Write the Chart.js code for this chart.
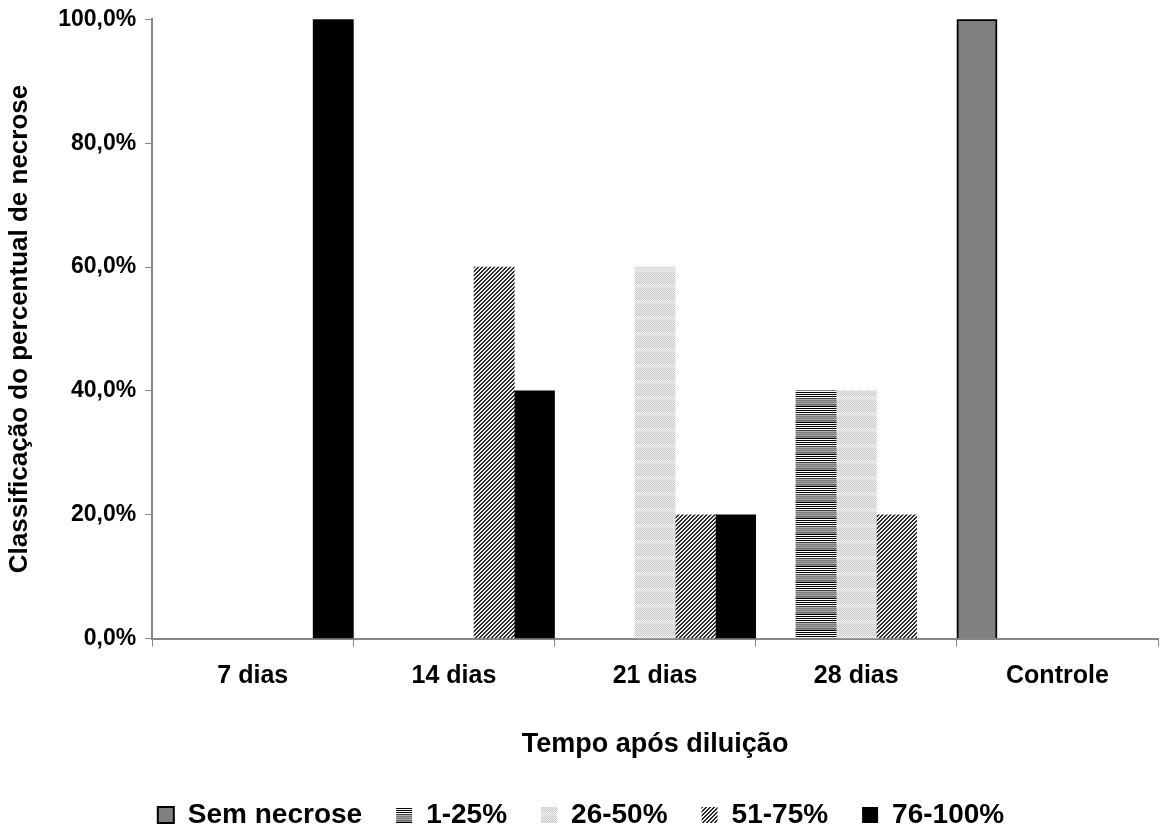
<!DOCTYPE html>
<html>
<head>
<meta charset="utf-8">
<script src="https://cdn.jsdelivr.net/npm/chart.js@4/dist/chart.umd.min.js"></script>
<style>
  html, body { margin: 0; padding: 0; background: #fff; }
  #wrap { width: 1168px; height: 839px; position: relative; }
</style>
</head>
<body>
<div id="wrap"><canvas id="chart"></canvas></div>
<script>
const categories = ['7 dias', '14 dias', '21 dias', '28 dias', 'Controle'];
const seriesNames = ['Sem necrose', '1-25%', '26-50%', '51-75%', '76-100%'];
const semNecrose = [0, 0, 0, 0, 100];
const pct1a25 = [0, 0, 0, 40, 0];
const pct26a50 = [0, 0, 60, 40, 0];
const pct51a75 = [0, 60, 20, 20, 0];
const pct76a100 = [100, 40, 20, 0, 0];
const yTicks = [0, 20, 40, 60, 80, 100];

const FONT = '"Liberation Sans", Arial, sans-serif';

// little canvas tiles for the Excel-like fill patterns
function tile(w, h, paint) {
  const c = document.createElement('canvas');
  c.width = w; c.height = h;
  const g = c.getContext('2d');
  for (let y = 0; y < h; y++) {
    for (let x = 0; x < w; x++) {
      g.fillStyle = paint(x, y);
      g.fillRect(x, y, 1, 1);
    }
  }
  return document.getElementById('chart').getContext('2d').createPattern(c, 'repeat');
}

const hRows = ['#7c7c7c', '#9a9a9a', '#808080', '#a4a4a4', '#6a6a6a', '#8c8c8c',
  '#000', '#fff', '#000', '#fff', '#000', '#fff', '#000', '#fff', '#3c3c3c', '#b0b0b0'];
const horizPattern = tile(1, 16, (x, y) => hRows[y]);
const dotPattern = tile(16, 16, (x, y) => {
  const on = (x + y) % 2 === 0;
  if (y % 16 >= 12) return on ? '#dcdcdc' : '#ececec';
  return on ? '#c4c4c4' : '#f2f2f2';
});
const diagPattern = tile(4, 4, (x, y) => ((x + y) % 4 < 2 ? '#2a2a2a' : '#ececec'));

const fills = ['#808080', horizPattern, dotPattern, diagPattern, '#000000'];
const values = [semNecrose, pct1a25, pct26a50, pct51a75, pct76a100];

const datasets = seriesNames.map((name, i) => ({
  label: name,
  // empty slots are left out so no zero-height sliver sits on the axis
  data: values[i].map((v) => (v === 0 ? null : v)),
  backgroundColor: fills[i],
  borderColor: '#000000',
  borderWidth: i === 0 ? 2 : 0,
  categoryPercentage: 1.0,
  barPercentage: 1.0,
}));

new Chart(document.getElementById('chart'), {
  type: 'bar',
  data: { labels: categories, datasets },
  options: {
    responsive: true,
    maintainAspectRatio: false,
    animation: false,
    layout: { padding: { left: 4, right: 10, top: 2, bottom: 0 } },
    plugins: {
      tooltip: { enabled: false },
      legend: {
        position: 'bottom',
        labels: {
          color: '#000',
          font: { family: FONT, size: 28, weight: 'bold' },
          boxWidth: 16,
          boxHeight: 16,
          padding: 34,
        },
      },
    },
    scales: {
      x: {
        grid: {
          drawOnChartArea: false,
          drawTicks: true,
          tickLength: 8,
          color: '#868686',
          offset: true,
        },
        border: { color: '#868686', width: 2 },
        ticks: {
          color: '#000',
          font: { family: FONT, size: 25, weight: 'bold' },
          padding: 15,
          maxRotation: 0,
        },
        title: {
          display: true,
          text: 'Tempo após diluição',
          color: '#000',
          font: { family: FONT, size: 27, weight: 'bold' },
          padding: { top: 22, bottom: 6 },
        },
      },
      y: {
        min: 0,
        max: 100,
        afterBuildTicks: (scale) => {
          scale.ticks = yTicks.map((v) => ({ value: v }));
        },
        grid: {
          drawOnChartArea: false,
          drawTicks: true,
          tickLength: 7,
          color: '#868686',
        },
        border: { color: '#868686', width: 2 },
        ticks: {
          color: '#000',
          font: { family: FONT, size: 23, weight: 'bold', lineHeight: 0.9 },
          padding: 9,
          callback: (v) => v.toFixed(1).replace('.', ',') + '%',
        },
        title: {
          display: true,
          text: 'Classificação do percentual de necrose',
          color: '#000',
          font: { family: FONT, size: 26, weight: 'bold' },
          padding: { top: 0, bottom: 14 },
        },
      },
    },
  },
});
</script>
</body>
</html>
